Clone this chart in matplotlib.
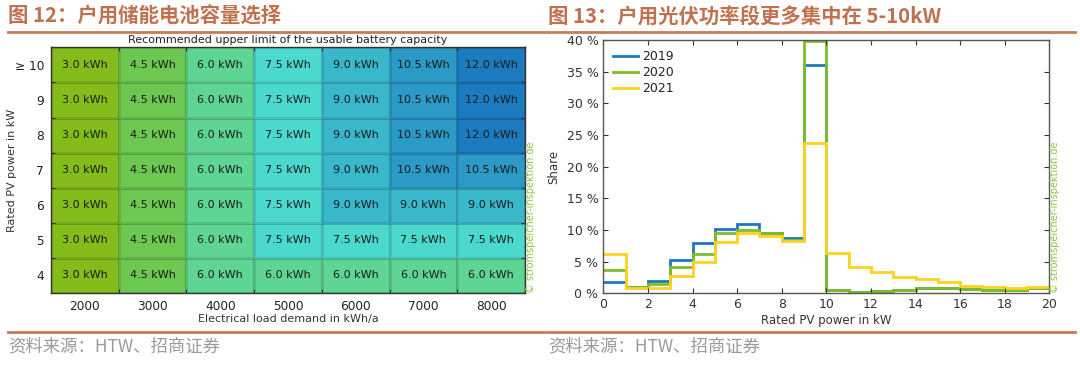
import matplotlib
matplotlib.use("Agg")
import matplotlib.pyplot as plt
import numpy as np
from matplotlib.colors import ListedColormap, BoundaryNorm
from matplotlib.lines import Line2D

plt.rcParams['font.family'] = ['DejaVu Sans']

# ---------------- data ----------------
load_demand = [2000, 3000, 4000, 5000, 6000, 7000, 8000]
pv_power_labels = ["4", "5", "6", "7", "8", "9", "\u2265 10"]
capacity = [  # rows: PV power 4 ... >=10, cols: load demand
    [3.0, 4.5, 6.0, 6.0, 6.0, 6.0, 6.0],
    [3.0, 4.5, 6.0, 7.5, 7.5, 7.5, 7.5],
    [3.0, 4.5, 6.0, 7.5, 9.0, 9.0, 9.0],
    [3.0, 4.5, 6.0, 7.5, 9.0, 10.5, 10.5],
    [3.0, 4.5, 6.0, 7.5, 9.0, 10.5, 12.0],
    [3.0, 4.5, 6.0, 7.5, 9.0, 10.5, 12.0],
    [3.0, 4.5, 6.0, 7.5, 9.0, 10.5, 12.0],
]
capacity_levels = [3.0, 4.5, 6.0, 7.5, 9.0, 10.5, 12.0]
level_colors = ['#84BC1C', '#6DC852', '#5ED495', '#4BD9CE', '#39B8CB', '#2B9AC7', '#1B7BBE']

bin_edges = list(range(0, 21))
share_2019 = [1.8, 1.0, 2.0, 5.3, 7.9, 10.2, 11.0, 9.5, 8.7, 36.0,
              0.5, 0.2, 0.4, 0.6, 0.85, 0.8, 0.7, 0.6, 0.6, 0.8]
share_2020 = [3.7, 1.0, 1.5, 4.2, 6.2, 9.6, 10.0, 9.5, 8.4, 39.8,
              0.5, 0.25, 0.4, 0.6, 0.8, 0.8, 0.7, 0.6, 0.6, 0.8]
share_2021 = [6.2, 0.8, 0.9, 2.8, 5.0, 8.05, 9.6, 9.05, 8.3, 23.7,
              6.4, 4.2, 3.4, 2.5, 2.2, 1.8, 1.15, 1.0, 0.9, 1.05]
years = ["2019", "2020", "2021"]
year_colors = ['#1E78C2', '#7DBD2A', '#FFD21F']

title_left = "图 12：户用储能电池容量选择"
title_right = "图 13：户用光伏功率段更多集中在 5-10kW"
source_text = "资料来源：HTW、招商证券"
watermark = "\u00a9 stromspeicher-inspektion.de"

# ---------------- figure ----------------
W, H = 1080, 369
fig = plt.figure(figsize=(W / 100, H / 100), dpi=100)

def fx(px):
    return px / W

def fy(py):
    return 1 - py / H

title_color = '#C0714F'
cjk = ['Noto Sans CJK SC', 'DejaVu Sans']
fig.text(fx(8), fy(16), title_left, family=cjk, fontsize=14.7, fontweight='bold',
         color=title_color, va='center', ha='left')
fig.text(fx(548), fy(16), title_right, family=cjk, fontsize=14.7, fontweight='bold',
         color=title_color, va='center', ha='left')
for x0, x1 in [(8, 545), (548, 1075)]:
    fig.add_artist(Line2D([fx(x0), fx(x1)], [fy(31.5), fy(31.5)], color='#C87A5C', lw=2))
    fig.add_artist(Line2D([fx(x0), fx(x1)], [fy(332), fy(332)], color='#C87A5C', lw=2))
fig.text(fx(8), fy(346), source_text, family=cjk, fontsize=12.5, color='#9A9A9A',
         va='center', ha='left')
fig.text(fx(548), fy(346), source_text, family=cjk, fontsize=12.5, color='#9A9A9A',
         va='center', ha='left')

# ---------------- left heatmap ----------------
axL = fig.add_axes([fx(51), fy(293), fx(525) - fx(51), fy(47.3) - fy(293)])
cmap = ListedColormap(level_colors)
bounds = [2.25, 3.75, 5.25, 6.75, 8.25, 9.75, 11.25, 12.75]
norm = BoundaryNorm(bounds, cmap.N)
data = np.array(capacity)
nx, ny = len(load_demand), len(pv_power_labels)
axL.pcolormesh(np.arange(nx + 1), np.arange(ny + 1), data, cmap=cmap, norm=norm,
               edgecolors=(0, 0, 0, 0.10), linewidth=0.8)
for r in range(ny):
    for c in range(nx):
        axL.text(c + 0.5, r + 0.5, f"{capacity[r][c]:.1f} kWh", ha='center', va='center',
                 fontsize=8, color='#1A1A1A')
axL.set_xlim(0, nx)
axL.set_ylim(0, ny)
axL.set_xticks(np.arange(nx + 1))
axL.set_yticks(np.arange(ny + 1))
axL.set_xticklabels([])
axL.set_yticklabels([])
axL.set_xticks(np.arange(nx) + 0.5, minor=True)
axL.set_yticks(np.arange(ny) + 0.5, minor=True)
axL.set_xticklabels([str(v) for v in load_demand], minor=True)
axL.set_yticklabels(pv_power_labels, minor=True)
axL.tick_params(which='major', direction='in', length=3, top=True, right=True,
                color='#333333', width=0.8)
axL.tick_params(which='minor', length=0, labelsize=8.7, labelcolor='#222222', pad=5)
for s in axL.spines.values():
    s.set_color('#333333')
    s.set_linewidth(1.0)
axL.set_xlabel("Electrical load demand in kWh/a", fontsize=8, color='#333333', labelpad=1)
axL.set_ylabel("Rated PV power in kW", fontsize=8, color='#333333')
axL.yaxis.set_label_coords((17 - 51) / 474, 0.5)
axL.set_title("Recommended upper limit of the usable battery capacity", fontsize=8,
              color='#222222', pad=3)
fig.text(fx(531), fy(293), watermark, rotation=90, fontsize=7, color='#8CC63F',
         ha='center', va='bottom')

# ---------------- right step histogram ----------------
axR = fig.add_axes([fx(603.3), fy(293.3), fx(1049.3) - fx(603.3), fy(40) - fy(293.3)])
for vals, col, lab in zip([share_2019, share_2020, share_2021], year_colors, years):
    axR.stairs(vals, bin_edges, baseline=None, color=col, lw=2, label=lab)
axR.set_xlim(0, 20)
axR.set_ylim(0, 40)
axR.set_xticks(range(0, 21, 2))
axR.set_yticks(range(0, 41, 5))
axR.set_yticklabels([f"{v} %" for v in range(0, 41, 5)])
axR.tick_params(direction='in', length=3.5, top=True, right=True, color='#333333',
                width=0.8, labelsize=9, labelcolor='#333333')
for s in axR.spines.values():
    s.set_color('#555555')
    s.set_linewidth(1.0)
axR.set_xlabel("Rated PV power in kW", fontsize=8.5, color='#333333', labelpad=2)
axR.set_ylabel("Share", fontsize=8.5, color='#333333')
axR.yaxis.set_label_coords((560 - 603.3) / 446, 0.5)
leg = axR.legend(loc='upper left', frameon=False, fontsize=9, handlelength=2.0,
                 handletextpad=0.3, labelspacing=0.25, borderaxespad=0.4,
                 bbox_to_anchor=(0.0, 1.0))
for t in leg.get_texts():
    t.set_color('#222222')
fig.text(fx(1055), fy(293), watermark, rotation=90, fontsize=7, color='#8CC63F',
         ha='center', va='bottom')

fig.savefig("out.png", dpi=100)
